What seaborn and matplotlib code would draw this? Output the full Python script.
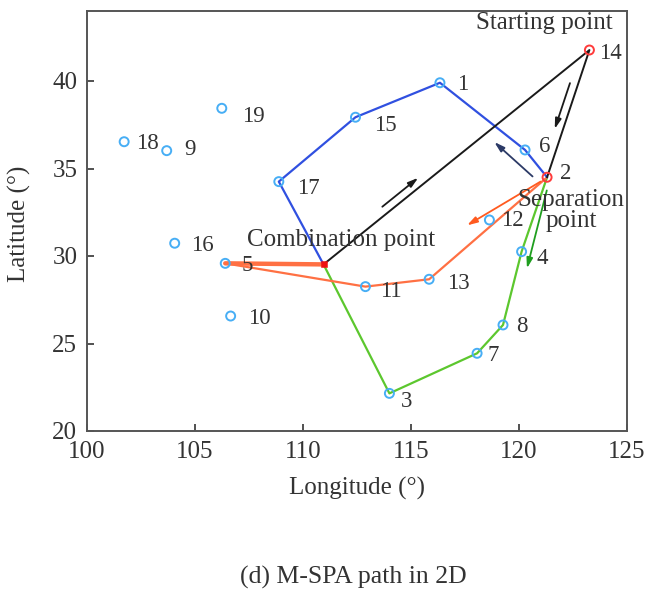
import numpy as np
import pandas as pd
import matplotlib
matplotlib.use("Agg")
import matplotlib.pyplot as plt
import seaborn as sns

# node positions (longitude, latitude); "C" = combination point
node_ids = ["1", "2", "3", "4", "5", "6", "7", "8", "9", "10",
            "11", "12", "13", "14", "15", "16", "17", "18", "19", "C"]
lon = [116.34, 121.30, 114.00, 120.12, 106.40, 120.28, 118.06, 119.26, 103.69, 106.65,
       112.89, 118.63, 115.84, 123.26, 112.43, 104.06, 108.88, 101.72, 106.24, 110.95]
lat = [39.90, 34.50, 22.15, 30.25, 29.58, 36.06, 24.44, 26.06, 36.02, 26.57,
       28.25, 32.06, 28.67, 41.77, 37.93, 30.73, 34.25, 36.53, 38.44, 29.52]

# routes as node order
route_black = ["C", "14", "2"]
route_blue = ["2", "6", "1", "15", "17", "C"]
route_orange = ["2", "13", "11", "5", "C"]
route_green = ["2", "4", "8", "7", "3", "C"]
red_nodes = ["14", "2"]

# label offsets in pixels (dx right, dy down) relative to each node
label_off = {"1": (23, 2), "2": (19, -4), "3": (17, 8), "4": (21, 7), "5": (22, 2),
             "6": (20, -3), "7": (16, 2), "8": (19, 2), "9": (23, -1), "10": (29, 2),
             "11": (25, 5), "12": (23, 1), "13": (29, 4), "14": (21, 3), "15": (30, 8),
             "16": (28, 2), "17": (30, 7), "18": (23, 2), "19": (32, 8)}

# direction arrows: (from, to, t0, t1, offset0, offset1, colour); offsets in px, + = left side
arrows = [("C", "14", 0.24, 0.375, 8, 8, "#1a1a1a"),
          ("14", "2", 0.28, 0.64, -8, -8, "#1a1a1a"),
          ("2", "1", 0.08, 0.44, 9, 8.5, "#2c3a66"),
          ("2", "13", 0.05, 0.59, -1, -16, "#ff5a1f"),
          ("2", "4", 0.16, 1.18, 4, 10.5, "#1f9e1f")]

nodes = pd.DataFrame({"node": node_ids, "lon": lon, "lat": lat}).set_index("node")

sns.set_style("ticks")
plt.rcParams["font.family"] = ["Liberation Serif", "DejaVu Serif"]

fig = plt.figure(figsize=(6.45, 5.91), dpi=100)
ax = fig.add_axes([87 / 645, 1 - 431 / 591, (627 - 87) / 645, (431 - 11) / 591])


def draw_route(route, color, lw=1.6):
    df = nodes.loc[route].reset_index()
    sns.lineplot(data=df, x="lon", y="lat", sort=False, estimator=None,
                 color=color, lw=lw, ax=ax, zorder=2)


draw_route(route_green, "#5cc72e")
draw_route(route_orange, "#ff7043")
draw_route(["5", "C"], "#ff7043", lw=3.2)
draw_route(route_blue, "#3050e0")
draw_route(route_black, "#1a1a1a", lw=1.4)

plain = nodes.drop(index=red_nodes + ["C"]).reset_index()
sns.scatterplot(data=plain, x="lon", y="lat", marker="o", s=42,
                facecolor="none", edgecolor="#47aef5", linewidth=1.4, ax=ax, zorder=3)
sns.scatterplot(data=nodes.loc[red_nodes].reset_index(), x="lon", y="lat", marker="o", s=42,
                facecolor="none", edgecolor="#ff3b3b", linewidth=1.4, ax=ax, zorder=3)
sns.scatterplot(data=nodes.loc[["C"]].reset_index(), x="lon", y="lat", marker="s", s=22,
                color="#ee1111", edgecolor="#ee1111", ax=ax, zorder=4)

ax.set_xlim(100, 125)
ax.set_ylim(20, 44)
ax.set_xticks(range(100, 126, 5))
ax.set_yticks(range(20, 41, 5))
ax.tick_params(direction="in", length=5, width=1.2, labelsize=18, colors="#333333",
               top=False, right=False, pad=7)
for sp in ax.spines.values():
    sp.set_color("#555555")
    sp.set_linewidth(1.4)

ax.set_xlabel("Longitude (°)", fontsize=18, va="center", color="#333333")
ax.xaxis.set_label_coords(0.5, -(488 - 431) / 420)
ax.set_ylabel("Latitude (°)", fontsize=18, va="center", color="#333333")
ax.yaxis.set_label_coords((19 - 87) / 540, (431 - 224) / 420)

# numbered labels
for nid, (dx, dy) in label_off.items():
    ax.annotate(nid, (nodes.loc[nid, "lon"], nodes.loc[nid, "lat"]), xytext=(dx, -dy),
                textcoords="offset pixels", ha="center", va="center",
                fontsize=16.5, color="#333333", zorder=5)

ax.annotate("Starting point", (nodes.loc["14", "lon"], nodes.loc["14", "lat"]),
            xytext=(-45, 27), textcoords="offset pixels", ha="center", va="center",
            fontsize=18, color="#333333", zorder=5)
ax.annotate("Separation\npoint", (nodes.loc["2", "lon"], nodes.loc["2", "lat"]),
            xytext=(24, -33), textcoords="offset pixels", ha="center", va="center",
            fontsize=18, linespacing=0.95, color="#333333", zorder=5)
ax.annotate("Combination point", (nodes.loc["C", "lon"], nodes.loc["C", "lat"]),
            xytext=(18, 24), textcoords="offset pixels", ha="center", va="center",
            fontsize=18, color="#333333", zorder=5)

# arrows drawn parallel to route segments, offset in screen space
to_disp = ax.transData
to_data = ax.transData.inverted()
for a, b, t0, t1, o0, o1, col in arrows:
    pa = to_disp.transform((nodes.loc[a, "lon"], nodes.loc[a, "lat"]))
    pb = to_disp.transform((nodes.loc[b, "lon"], nodes.loc[b, "lat"]))
    d = pb - pa
    u = d / np.hypot(*d)
    n = np.array([-u[1], u[0]])
    s = to_data.transform(pa + t0 * d + o0 * n)
    e = to_data.transform(pa + t1 * d + o1 * n)
    ax.annotate("", xy=e, xytext=s,
                arrowprops=dict(arrowstyle="-|>,head_length=0.6,head_width=0.18",
                                color=col, lw=1.3, shrinkA=0, shrinkB=0), zorder=4)

fig.text(353 / 645, 1 - 577 / 591, "(d) M-SPA path in 2D", ha="center", va="center",
         fontsize=18.5, color="#333333")

fig.savefig("out.png", dpi=100)
